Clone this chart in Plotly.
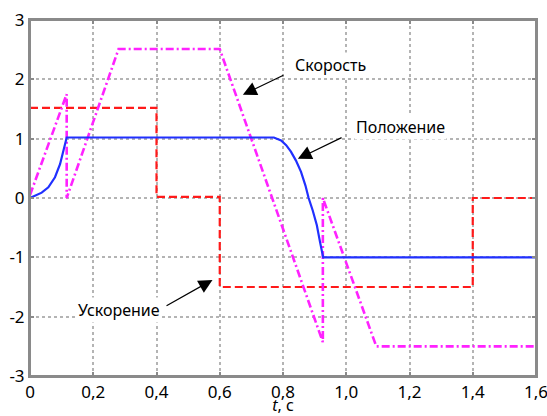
import plotly.graph_objects as go

# Acceleration (red dashed)
t_acc = [0, 0.4, 0.4, 0.6, 0.6, 1.4, 1.4, 1.6]
acc = [1.52, 1.52, 0.02, 0.02, -1.5, -1.5, 0.0, 0.0]

# Velocity (magenta dash-dot)
t_vel = [0, 0.116, 0.116, 0.28, 0.6, 0.926, 0.926, 1.095, 1.598]
vel = [0.05, 1.75, 0.0, 2.51, 2.51, -2.43, 0.0, -2.5, -2.5]

# Position (blue solid)
t_pos = [0, 0.016, 0.037, 0.058, 0.079, 0.095, 0.106, 0.116, 0.771, 0.794, 0.81,
         0.825, 0.841, 0.857, 0.871, 0.881, 0.894, 0.907, 0.917, 0.924, 0.927, 1.6]
pos = [0, 0.04, 0.09, 0.18, 0.35, 0.57, 0.8, 1.02, 1.02, 0.97, 0.89,
       0.78, 0.63, 0.44, 0.21, 0.0, -0.21, -0.46, -0.74, -0.97, -1.0, -1.0]

x_ticks = [0, 0.2, 0.4, 0.6, 0.8, 1.0, 1.2, 1.4, 1.6]
x_ticktext = ["0", "0,2", "0,4", "0,6", "0,8", "1,0", "1,2", "1,4", "1,6"]
y_ticks = [-3, -2, -1, 0, 1, 2, 3]
y_ticktext = ["-3", "-2", "-1", "0", "1", "2", "3"]

FONT = "Noto Sans"

fig = go.Figure()
fig.add_trace(go.Scatter(x=t_acc, y=acc, mode="lines",
                         line=dict(color="#ff1a1a", width=2.2, dash="8px,4px")))
fig.add_trace(go.Scatter(x=t_vel, y=vel, mode="lines",
                         line=dict(color="#ff22ff", width=2.6, dash="8px,3px,2px,3px")))
fig.add_trace(go.Scatter(x=t_pos, y=pos, mode="lines",
                         line=dict(color="#2030ff", width=2.2)))

# text labels
labels = [("Скорость", 0.951, 2.24), ("Положение", 1.171, 1.205), ("Ускорение", 0.282, -1.88)]
for txt, lx, ly in labels:
    fig.add_annotation(x=lx, y=ly, text=txt, showarrow=False,
                       font=dict(family=FONT, size=16, color="black"),
                       bgcolor="white")

# arrows (head x,y ; tail ax,ay)
arrows = [(0.673, 1.74, 0.806, 2.08), (0.847, 0.66, 0.99, 1.03), (0.577, -1.38, 0.427, -1.83)]
for hx, hy, tx, ty in arrows:
    fig.add_annotation(x=hx, y=hy, ax=tx, ay=ty, xref="x", yref="y", axref="x", ayref="y",
                       text="", showarrow=True, arrowhead=2, arrowsize=2.3,
                       arrowwidth=1.2, arrowcolor="black")

axis_common = dict(showline=True, linecolor="#8a8a8a", linewidth=2, mirror="allticks",
                   ticks="inside", ticklen=4, tickcolor="#8a8a8a", tickwidth=1.5,
                   showgrid=True, gridcolor="#b4b4b4", gridwidth=1.5, griddash="dot",
                   zeroline=False, automargin=False, ticklabeloverflow="allow",
                   tickfont=dict(family=FONT, size=17, color="black"))

fig.update_xaxes(range=[0, 1.6], tickvals=x_ticks, ticktext=x_ticktext,
                 title=dict(text="<i>t</i>, с", font=dict(family=FONT, size=16, color="black"),
                            standoff=9),
                 **axis_common)
fig.update_yaxes(range=[-3, 3], tickvals=y_ticks, ticktext=y_ticktext, **axis_common)

# plot frame
fig.add_shape(type="rect", xref="paper", yref="paper", x0=0, y0=0, x1=1, y1=1,
              line=dict(color="#8a8a8a", width=2), layer="above")

fig.update_layout(width=547, height=416, margin=dict(l=30, r=11, t=20, b=40),
                  paper_bgcolor="white", plot_bgcolor="white", showlegend=False,
                  font=dict(family=FONT))

fig.write_html("out.html", config={"displayModeBar": False},
               post_script="document.body.style.margin='0';document.body.style.overflow='hidden';")
